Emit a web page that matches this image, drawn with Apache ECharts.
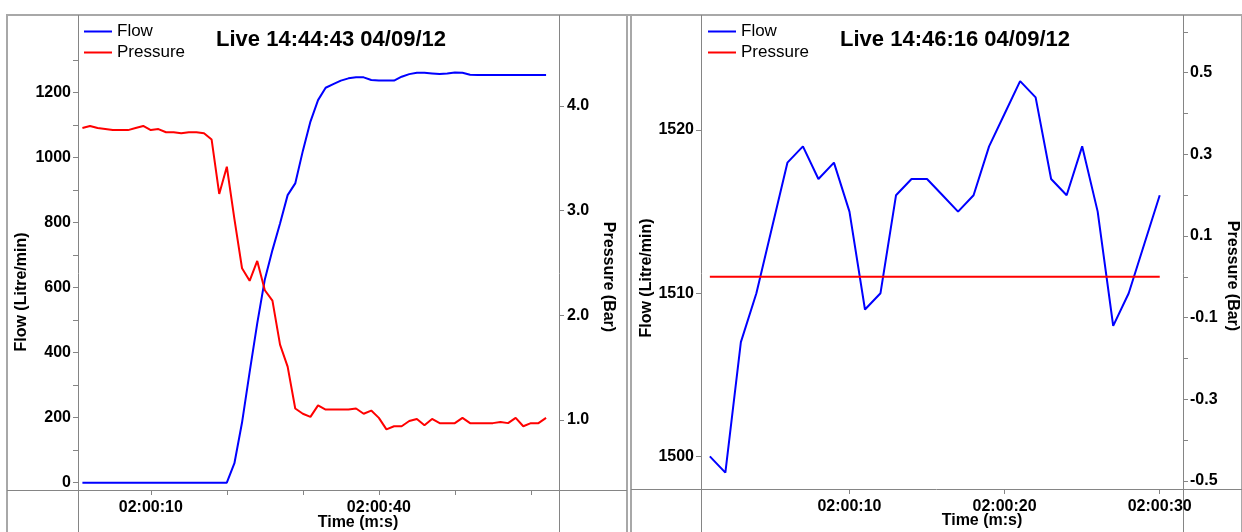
<!DOCTYPE html>
<html>
<head>
<meta charset="utf-8">
<script src="https://cdn.jsdelivr.net/npm/echarts@6/dist/echarts.min.js"></script>
<style>
  html, body { margin: 0; padding: 0; background: #fff; }
  #chart { width: 1242px; height: 532px; }
</style>
</head>
<body>
<div id="chart"></div>
<script>
// ---- Left panel: pump start-up (one sample per second) ----
const leftSeconds = [1, 2, 3, 4, 5, 6, 7, 8, 9, 10, 11, 12, 13, 14, 15, 16, 17, 18, 19, 20,
  21, 22, 23, 24, 25, 26, 27, 28, 29, 30, 31, 32, 33, 34, 35, 36, 37, 38, 39, 40,
  41, 42, 43, 44, 45, 46, 47, 48, 49, 50, 51, 52, 53, 54, 55, 56, 57, 58, 59, 60, 61, 62];
const leftFlow = [0, 0, 0, 0, 0, 0, 0, 0, 0, 0, 0, 0, 0, 0, 0, 0, 0, 0, 0, 0,
  60, 185, 340, 490, 625, 715, 797, 884, 920, 1020, 1110, 1176, 1214, 1225, 1236, 1243, 1246, 1246, 1238, 1236,
  1236, 1236, 1248, 1256, 1260, 1260, 1258, 1256, 1258, 1261, 1260, 1254, 1253, 1253, 1253, 1253, 1253, 1253, 1253, 1253, 1253, 1253];
const leftPressure = [3.79, 3.81, 3.79, 3.78, 3.77, 3.77, 3.77, 3.79, 3.81, 3.77, 3.78, 3.75, 3.75, 3.74, 3.75, 3.75, 3.74, 3.68, 3.16, 3.42,
  2.92, 2.45, 2.33, 2.52, 2.24, 2.14, 1.72, 1.51, 1.11, 1.06, 1.03, 1.14, 1.10, 1.10, 1.10, 1.10, 1.11, 1.06, 1.09, 1.02,
  0.91, 0.94, 0.94, 0.99, 1.01, 0.95, 1.01, 0.97, 0.97, 0.97, 1.02, 0.97, 0.97, 0.97, 0.97, 0.98, 0.97, 1.02, 0.94, 0.97, 0.97, 1.02];

// ---- Right panel: steady running ----
const rightSeconds = [1, 2, 3, 4, 5, 6, 7, 8, 9, 10, 11, 12, 13, 14, 15,
  16, 17, 18, 19, 20, 21, 22, 23, 24, 25, 26, 27, 28, 29, 30];
const rightFlow = [1500, 1499, 1507, 1510, 1514, 1518, 1519, 1517, 1518, 1515, 1509, 1510, 1516, 1517, 1517,
  1516, 1515, 1516, 1519, 1521, 1523, 1522, 1517, 1516, 1519, 1515, 1508, 1510, 1513, 1516];
const rightPressure = [0, 0, 0, 0, 0, 0, 0, 0, 0, 0, 0, 0, 0, 0, 0,
  0, 0, 0, 0, 0, 0, 0, 0, 0, 0, 0, 0, 0, 0, 0];

// ---- Tick marks and labels ----
const leftFlowTicks = [0, 100, 200, 300, 400, 500, 600, 700, 800, 900, 1000, 1100, 1200, 1300];
const leftFlowLabels = [0, 200, 400, 600, 800, 1000, 1200];
const leftPressureTicks = [1, 2, 3, 4];
const leftTimeTicks = [10, 20, 30, 40, 50, 60];
const leftTimeLabels = [10, 40];
const rightFlowTicks = [1500, 1510, 1520];
const rightPressureTicks = [-0.5, -0.4, -0.3, -0.2, -0.1, 0, 0.1, 0.2, 0.3, 0.4, 0.5, 0.6];
const rightPressureLabels = [-0.5, -0.3, -0.1, 0.1, 0.3, 0.5];
const rightTimeTicks = [10, 20, 30];

const titles = ['Live 14:44:43 04/09/12', 'Live 14:46:16 04/09/12'];

// ---- Layout ----
const FONT = '"Liberation Sans", Arial, sans-serif';
const W = 1242, H = 532;
const panelL = { x0: 7, x1: 627, plotL: 78, plotR: 559, top: 15, axisY: 490 };
const panelR = { x0: 631, x1: W, plotL: 701, plotR: 1183, top: 15, axisY: 489 };
const AXIS_GREY = '#858585';
const FRAME_GREY = '#a8a8a8';

const labelStyle = { color: '#000', fontFamily: FONT, fontWeight: 'bold', fontSize: 16 };
const tickStyle = { lineStyle: { color: AXIS_GREY, width: 1 }, length: 5 };
const pad2 = v => (v < 10 ? '0' : '') + Math.round(v);
const timeFmt = v => '02:00:' + pad2(v);

function grid(p) {
  return { left: p.plotL, top: p.top, width: p.plotR - p.plotL, height: p.axisY - p.top };
}
function xAxis(idx, min, max, ticks, labels) {
  return {
    type: 'value', gridIndex: idx, position: 'bottom', min, max,
    splitLine: { show: false }, axisLine: { show: false, onZero: false },
    axisTick: Object.assign({ customValues: ticks }, tickStyle),
    axisLabel: Object.assign({ customValues: labels, formatter: timeFmt, margin: 10 }, labelStyle)
  };
}
function yAxis(idx, pos, min, max, ticks, labels, fmt, margin) {
  return {
    type: 'value', gridIndex: idx, position: pos, min, max,
    splitLine: { show: false }, axisLine: { show: false, onZero: false },
    axisTick: Object.assign({ customValues: ticks }, tickStyle),
    axisLabel: Object.assign({ customValues: labels, formatter: fmt, margin }, labelStyle)
  };
}
const pairs = (xs, ys) => xs.map((x, i) => [x, ys[i]]);
function lineSeries(name, color, xi, yi, data) {
  return {
    name, type: 'line', xAxisIndex: xi, yAxisIndex: yi, data,
    symbol: 'none', animation: false,
    lineStyle: { color, width: 2 }, itemStyle: { color }
  };
}

// Frame and axis rules drawn across each panel
function line(x1, y1, x2, y2, stroke, w) {
  return { type: 'line', silent: true, z: 0, shape: { x1, y1, x2, y2 }, style: { stroke, lineWidth: w } };
}
function text(str, x, y, rot, size, weight) {
  return {
    type: 'text', silent: true, x, y, rotation: rot,
    style: { text: str, fill: '#000', font: weight + ' ' + size + 'px ' + FONT, align: 'center', verticalAlign: 'middle' }
  };
}
function panelGraphics(p) {
  return [
    line(p.x0, p.top, p.x0, H, FRAME_GREY, 2),
    line(p.x1, p.top, p.x1, H, FRAME_GREY, 2),
    line(p.x0, p.axisY + 0.5, p.x1, p.axisY + 0.5, AXIS_GREY, 1),
    line(p.plotL + 0.5, p.top, p.plotL + 0.5, H, AXIS_GREY, 1),
    line(p.plotR + 0.5, p.top, p.plotR + 0.5, H, AXIS_GREY, 1)
  ];
}

const graphic = [
  line(6, 15, W, 15, FRAME_GREY, 2),
  ...panelGraphics(panelL),
  ...panelGraphics(panelR),
  text('Flow (Litre/min)', 22, 292, Math.PI / 2, 16, 'bold'),
  text('Pressure (Bar)', 608, 277, -Math.PI / 2, 16, 'bold'),
  text('Time (m:s)', 358, 523, 0, 16, 'bold'),
  text('Flow (Litre/min)', 647, 278, Math.PI / 2, 16, 'bold'),
  text('Pressure (Bar)', 1232, 276, -Math.PI / 2, 16, 'bold'),
  text('Time (m:s)', 982, 521, 0, 16, 'bold')
];

// Legend key: a plain 2px stroke, no marker
const legendBase = {
  orient: 'vertical', data: ['Flow', 'Pressure'],
  icon: 'path://M0 0 L28 0 L28 2 L0 2 Z', symbolKeepAspect: true,
  itemWidth: 28, itemHeight: 14, itemGap: 4,
  padding: 0, selectedMode: false,
  textStyle: { color: '#000', fontFamily: FONT, fontSize: 17 }
};

const option = {
  animation: false,
  backgroundColor: '#fff',
  title: [
    { text: titles[0], left: 331, top: 29, textAlign: 'center', padding: 0,
      textStyle: { color: '#000', fontFamily: FONT, fontWeight: 'bold', fontSize: 22 } },
    { text: titles[1], left: 955, top: 29, textAlign: 'center', padding: 0,
      textStyle: { color: '#000', fontFamily: FONT, fontWeight: 'bold', fontSize: 22 } }
  ],
  legend: [
    Object.assign({ left: 84, top: 23 }, legendBase),
    Object.assign({ left: 708, top: 23 }, legendBase)
  ],
  grid: [grid(panelL), grid(panelR)],
  xAxis: [
    xAxis(0, 0.42, 63.7, leftTimeTicks, leftTimeLabels),
    xAxis(1, 0.43, 31.5, rightTimeTicks, rightTimeTicks)
  ],
  yAxis: [
    yAxis(0, 'left', -22.4, 1437.7, leftFlowTicks, leftFlowLabels, v => String(Math.round(v)), 7),
    yAxis(0, 'right', 0.331, 4.87, leftPressureTicks, leftPressureTicks, v => v.toFixed(1), 8),
    yAxis(1, 'left', 1498.0, 1527.05, rightFlowTicks, rightFlowTicks, v => String(Math.round(v)), 7),
    yAxis(1, 'right', -0.5196, 0.6413, rightPressureTicks, rightPressureLabels, v => v.toFixed(1), 7)
  ],
  series: [
    lineSeries('Flow', '#0000ff', 0, 0, pairs(leftSeconds, leftFlow)),
    lineSeries('Pressure', '#ff0000', 0, 1, pairs(leftSeconds, leftPressure)),
    lineSeries('Flow', '#0000ff', 1, 2, pairs(rightSeconds, rightFlow)),
    lineSeries('Pressure', '#ff0000', 1, 3, pairs(rightSeconds, rightPressure))
  ],
  graphic
};

const chart = echarts.init(document.getElementById('chart'), null, { renderer: 'canvas' });
chart.setOption(option);
</script>
</body>
</html>
